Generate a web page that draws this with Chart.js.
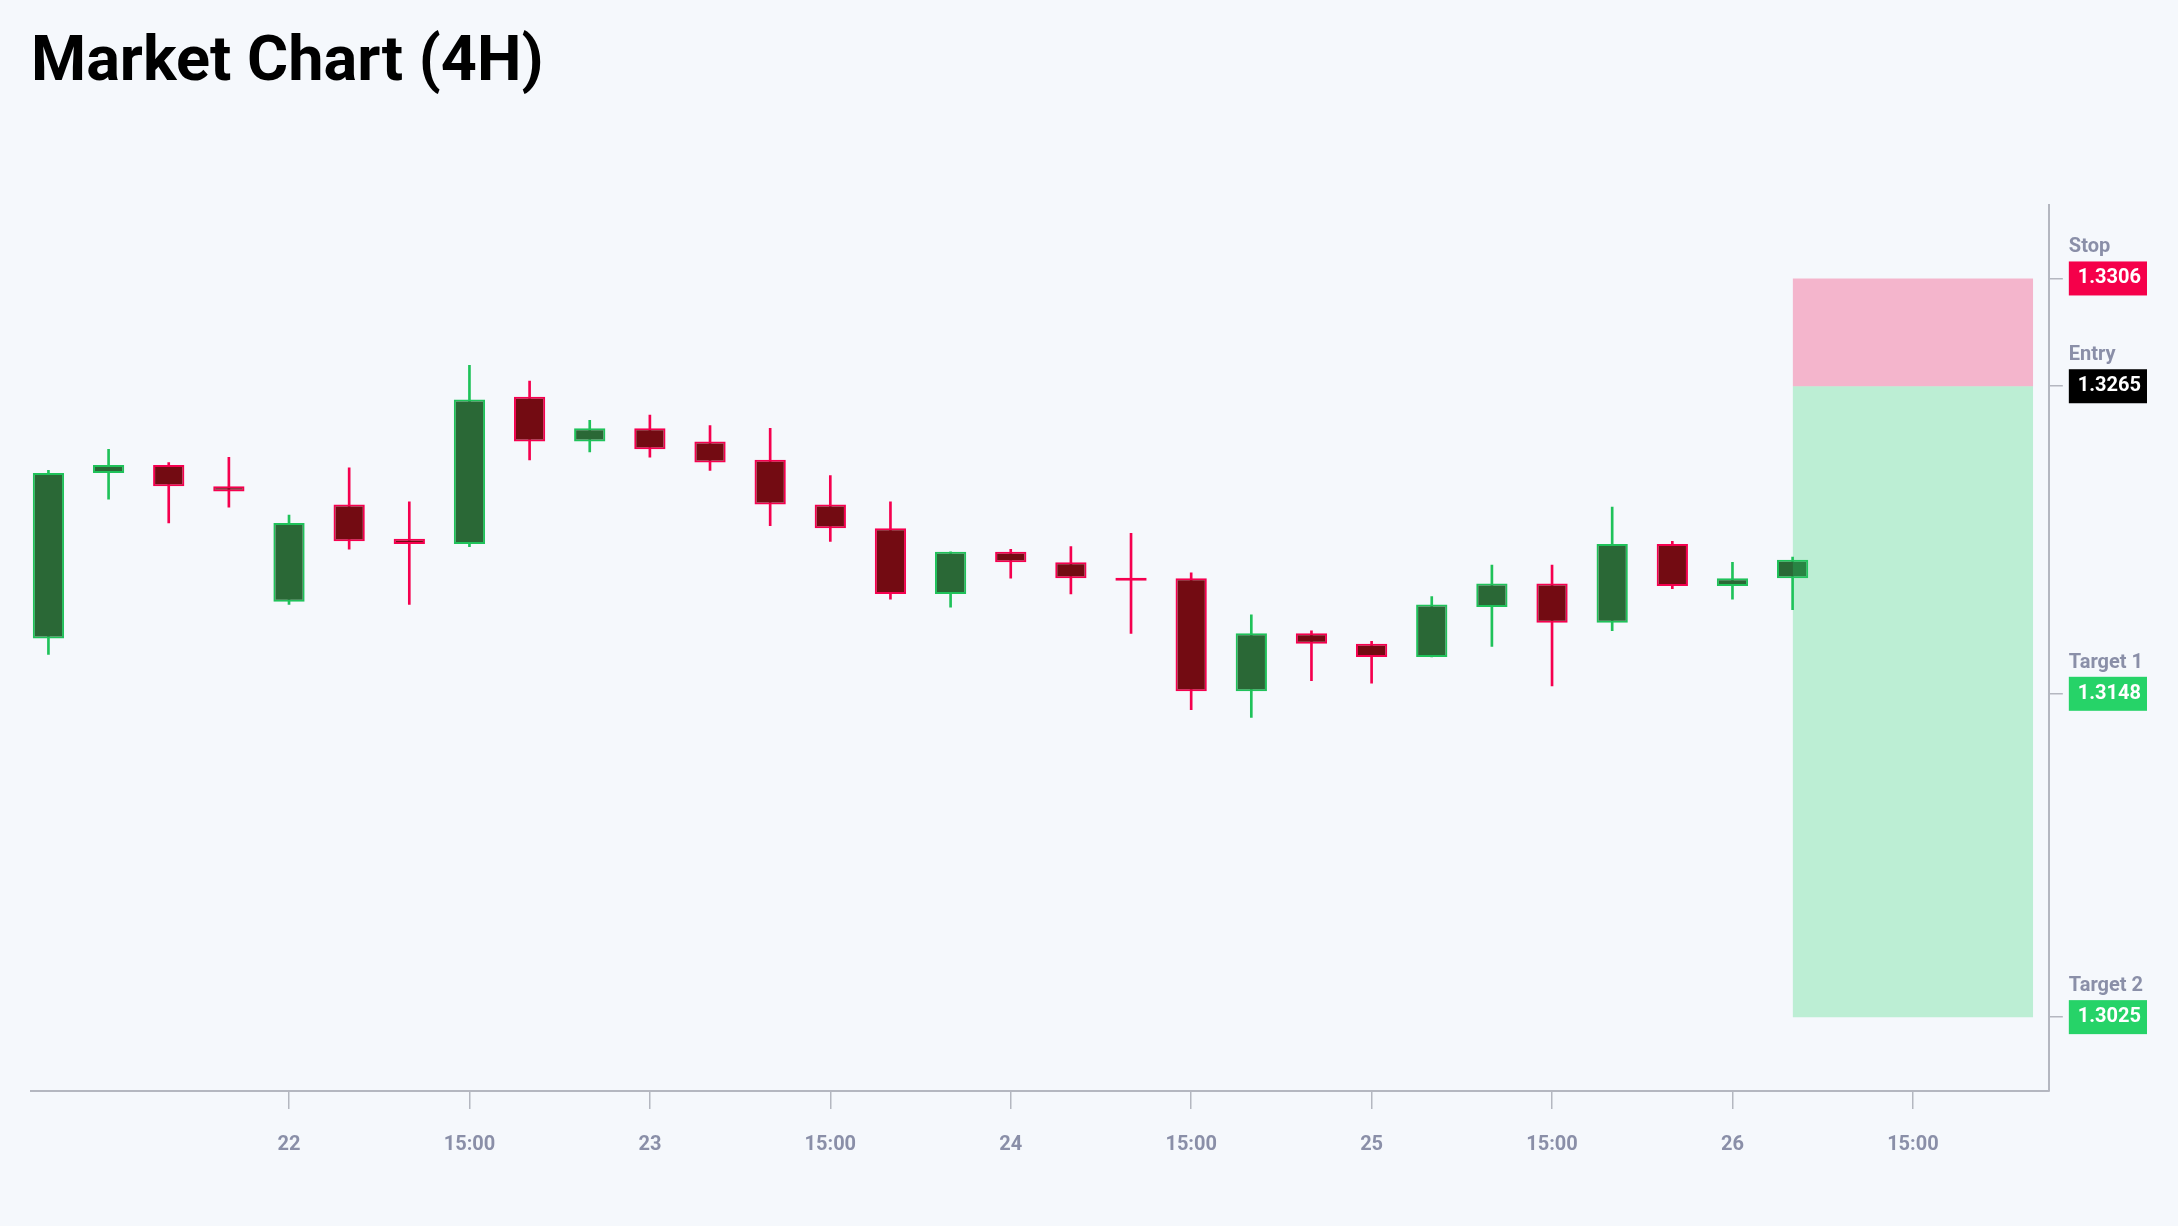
<!DOCTYPE html>
<html>
<head>
<meta charset="utf-8">
<title>Market Chart (4H)</title>
<script src="https://cdn.jsdelivr.net/npm/chart.js@4.4.1/dist/chart.umd.min.js"></script>
<style>
  html, body { margin: 0; padding: 0; background: #f5f8fc; }
  #wrap { width: 2178px; height: 1226px; position: relative; }
</style>
</head>
<body>
<div id="wrap"><canvas id="myChart"></canvas></div>
<script>
// 4H candles, oldest first
const opens  = [1.3169, 1.3232, 1.3235, 1.3227, 1.3183, 1.3220, 1.3207, 1.3205, 1.3261, 1.3244,
                1.3249, 1.3244, 1.3237, 1.3220, 1.3211, 1.3186, 1.3202, 1.3198, 1.3192, 1.3192,
                1.3149, 1.3171, 1.3167, 1.3162, 1.3181, 1.3190, 1.3175, 1.3205, 1.3189, 1.3192];
const highs  = [1.3233, 1.3241, 1.3236, 1.3238, 1.3216, 1.3234, 1.3221, 1.3273, 1.3267, 1.3252,
                1.3254, 1.3250, 1.3249, 1.3231, 1.3221, 1.3202, 1.3203, 1.3204, 1.3209, 1.3194,
                1.3178, 1.3172, 1.3168, 1.3185, 1.3197, 1.3197, 1.3219, 1.3206, 1.3198, 1.3200];
const lows   = [1.3163, 1.3222, 1.3213, 1.3219, 1.3182, 1.3203, 1.3182, 1.3204, 1.3237, 1.3240,
                1.3238, 1.3233, 1.3212, 1.3206, 1.3184, 1.3181, 1.3192, 1.3186, 1.3171, 1.3142,
                1.3139, 1.3153, 1.3152, 1.3162, 1.3166, 1.3151, 1.3172, 1.3188, 1.3184, 1.3180];
const closes = [1.3232, 1.3235, 1.3227, 1.3225, 1.3213, 1.3206, 1.3205, 1.3260, 1.3244, 1.3249,
                1.3241, 1.3236, 1.3220, 1.3211, 1.3186, 1.3202, 1.3198, 1.3192, 1.3191, 1.3149,
                1.3171, 1.3167, 1.3162, 1.3182, 1.3190, 1.3175, 1.3205, 1.3189, 1.3192, 1.3199];

// x axis ticks (candle index -> label)
const tickPositions = [4, 7, 10, 13, 16, 19, 22, 25, 28, 31];
const tickLabels = ['22', '15:00', '23', '15:00', '24', '15:00', '25', '15:00', '26', '15:00'];

// trade levels
const levelNames = ['Stop', 'Entry', 'Target 1', 'Target 2'];
const levelValues = [1.3306, 1.3265, 1.3148, 1.3025];
const levelColors = ['#f5004a', '#000000', '#26d368', '#26d368'];
const zoneStart = 29;
const zoneEnd = 33;

// colors
const upFill = '#2a6836', upLine = '#1fc25a';
const downFill = '#730b12', downLine = '#f5004f';
const axisColor = '#b4b7c0';
const labelGray = '#8a8fa8';

const isUp = i => closes[i] >= opens[i];

const wickData = lows.map((l, i) => ({ x: i, y: [l, highs[i]] }));
const bodyData = opens.map((o, i) => ({ x: i, y: [o, closes[i]] }));
const zoneLine = v => [{ x: zoneStart, y: v }, { x: zoneEnd, y: v }];

// names above the level badges
const levelNamePlugin = {
    id: 'levelNames',
    afterDraw(chart) {
        const yScale = chart.scales.y;
        const ctx = chart.ctx;
        ctx.save();
        ctx.font = 'bold 20px Roboto';
        ctx.fillStyle = labelGray;
        ctx.textAlign = 'left';
        ctx.textBaseline = 'alphabetic';
        levelValues.forEach((v, i) => {
            const py = yScale.getPixelForValue(v);
            ctx.fillText(levelNames[i], yScale.left + 14 + 15 - 9, py - 26);
        });
        ctx.restore();
    }
};

Chart.defaults.font.family = 'Roboto';

document.addEventListener("DOMContentLoaded", function() {
    const ctx = document.getElementById('myChart').getContext('2d');
    new Chart(ctx, {
        type: 'bar',
        data: {
            datasets: [
                {
                    type: 'line',
                    label: 'stop zone',
                    data: zoneLine(levelValues[0]),
                    fill: '+1',
                    backgroundColor: 'rgba(245, 0, 74, 0.27)',
                    borderColor: 'rgba(0,0,0,0)',
                    borderWidth: 0,
                    pointRadius: 0,
                    order: 0
                },
                {
                    type: 'line',
                    label: 'target zone',
                    data: zoneLine(levelValues[1]),
                    fill: '+1',
                    backgroundColor: 'rgba(38, 211, 104, 0.27)',
                    borderColor: 'rgba(0,0,0,0)',
                    borderWidth: 0,
                    pointRadius: 0,
                    order: 0
                },
                {
                    type: 'line',
                    label: 'target 2',
                    data: zoneLine(levelValues[3]),
                    fill: false,
                    borderColor: 'rgba(0,0,0,0)',
                    borderWidth: 0,
                    pointRadius: 0,
                    order: 0
                },
                {
                    label: 'body',
                    data: bodyData,
                    grouped: false,
                    categoryPercentage: 1,
                    barPercentage: 0.52,
                    minBarLength: 3,
                    borderWidth: 2,
                    borderSkipped: false,
                    backgroundColor: c => isUp(c.dataIndex) ? upFill : downFill,
                    borderColor: c => isUp(c.dataIndex) ? upLine : downLine,
                    order: 1
                },
                {
                    label: 'wick',
                    data: wickData,
                    grouped: false,
                    barThickness: 2,
                    borderWidth: 0,
                    backgroundColor: c => isUp(c.dataIndex) ? upLine : downLine,
                    order: 2
                }
            ]
        },
        options: {
            responsive: true,
            maintainAspectRatio: false,
            animation: false,
            layout: { padding: { left: 31, right: 22, top: 0, bottom: 45 } },
            plugins: {
                legend: { display: false },
                tooltip: { enabled: false },
                title: {
                    display: true,
                    text: 'Market Chart (4H)',
                    align: 'start',
                    color: '#000000',
                    font: { size: 63, weight: 'bold', family: 'Roboto' },
                    padding: { top: 26, bottom: 103 }
                }
            },
            scales: {
                x: {
                    type: 'linear',
                    min: -0.29,
                    max: 33.26,
                    offset: false,
                    afterBuildTicks: scale => {
                        scale.ticks = tickPositions.map(v => ({ value: v }));
                    },
                    ticks: {
                        autoSkip: false,
                        maxRotation: 0,
                        padding: 24,
                        color: labelGray,
                        font: { size: 20, weight: 'bold' },
                        callback: (value, index) => tickLabels[index]
                    },
                    grid: {
                        drawOnChartArea: false,
                        drawTicks: true,
                        tickLength: 18,
                        color: axisColor,
                        lineWidth: 1.5,
                        offset: false
                    },
                    border: { display: true, color: axisColor, width: 2 }
                },
                y: {
                    type: 'linear',
                    position: 'right',
                    min: 1.29969,
                    max: 1.33341,
                    afterBuildTicks: scale => {
                        scale.ticks = levelValues.map(v => ({ value: v }));
                    },
                    ticks: {
                        padding: 15,
                        color: '#ffffff',
                        font: { size: 20, weight: 'bold' },
                        showLabelBackdrop: true,
                        backdropColor: c => levelColors[c.index],
                        backdropPadding: { top: 5, bottom: 5, left: 9, right: 6 },
                        callback: value => value.toFixed(4)
                    },
                    grid: {
                        drawOnChartArea: false,
                        drawTicks: true,
                        tickLength: 14,
                        color: axisColor,
                        lineWidth: 1.5
                    },
                    border: { display: true, color: axisColor, width: 2 }
                }
            }
        },
        plugins: [levelNamePlugin]
    });
});
</script>
</body>
</html>
